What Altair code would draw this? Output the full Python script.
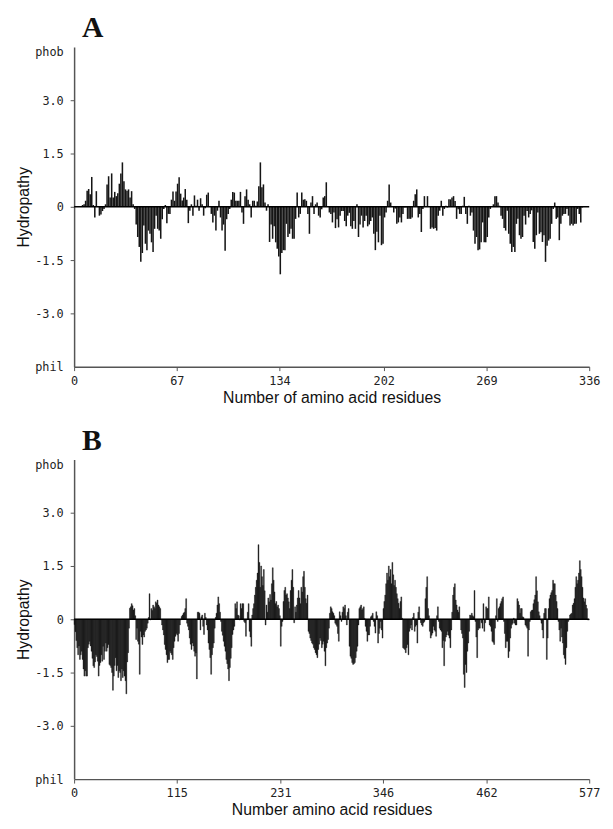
import altair as alt
import pandas as pd

# ---------------- data ----------------
A_VALUES = [
    0, 0, 0, 0, 0, 0.05, 0.07, 0.17, 0.45, 0.5,
    0.35, 0.84, 0.05, -0.3, 0.44, 0.02, -0.25, -0.22, -0.12, -0.06,
    0.07, 0.63, 0.86, 0.26, 0.94, 0.26, 0.42, 0.3, 0.38, 0.65,
    0.94, 1.25, 0.72, 0.49, 0.45, 0.49, 0.26, 0.44, 0.07, -0.06,
    -0.5, -0.85, -1.13, -1.55, -1.3, -0.53, -1.04, -1.22, -0.67, -0.76,
    -1.0, -1.27, -0.62, -0.25, -0.62, -0.67, -0.9, -0.35, -0.06, 0.05,
    -0.46, -0.2, -0.2, 0.2, 0.43, 0.17, 0.43, 0.65, 0.83, 0.37,
    0.18, 0.26, 0.5, 0.2, -0.46, -0.11, 0.07, -0.25, 0.32, 0.03,
    0.2, -0.11, 0.24, 0.07, -0.25, -0.04, 0.34, 0.4, 0.0, -0.2,
    -0.44, -0.25, -0.67, -0.11, 0.17, -0.3, -0.67, -0.5, -1.24, -0.35,
    -0.2, -0.06, 0.2, 0.42, 0.4, 0.17, 0.17, 0.17, 0.42, -0.16,
    -0.48, 0.3, 0.49, 0.2, 0.07, -0.3, 0.17, 0.17, 0.03, 0.15,
    0.58, 1.25, 0.55, 0.63, 0.12, -0.11, 0.07, -0.99, -0.5, -0.9,
    -0.55, -1.0, -1.18, -1.4, -1.9, -1.3, -1.22, -1.22, -0.48, -0.85,
    -0.76, -0.62, -0.9, -0.9, -0.34, 0.4, -0.3, -0.2, 0.4, 0.2,
    0.21, 0.17, -0.2, -0.76, 0.12, 0.3, -0.2, 0.07, 0.12, -0.25,
    -0.3, -0.07, 0.26, 0.3, 0.69, 0.0, -0.16, -0.2, -0.44, -0.16,
    -0.6, -0.35, -0.58, -0.25, -0.12, -0.12, -0.4, -0.55, -0.25, -0.17,
    -0.55, -0.62, -0.4, -0.62, 0.07, -0.85, -0.5, -0.25, -0.58, -0.4,
    -0.25, -0.55, -0.5, -0.4, -0.3, -0.76, -1.22, -0.7, -1.0, -0.25,
    -1.08, -1.04, -0.3, -0.16, 0.17, 0.63, 0.12, 0.0, -0.16, -0.05,
    -0.48, -0.44, -0.3, -0.44, -0.2, -0.02, -0.02, -0.34, -0.34, -0.34,
    -0.3, 0.17, 0.35, 0.49, -0.3, -0.2, -0.71, -0.06, 0.3, 0.0,
    0.3, 0.0, -0.62, -0.58, -0.62, -0.6, -0.67, -0.25, -0.11, 0.17,
    -0.25, -0.06, 0.03, -0.02, 0.21, 0.21, 0.26, 0.3, 0.16, -0.34,
    -0.07, -0.2, -0.2, 0.03, 0.28, -0.2, -0.48, 0.03, -0.25, -0.16,
    -0.67, -1.04, -0.85, -1.22, -1.2, -1.0, -0.44, -1.0, -1.0, -0.85,
    -0.3, -0.06, 0.0, 0.07, 0.3, 0.3, 0.12, 0.03, -0.25, -0.34,
    -0.6, -0.67, -0.11, -0.76, -1.04, -1.27, -1.13, -1.27, -0.48, -0.34,
    -0.8, -0.9, -0.85, -0.25, -0.5, -0.12, -0.3, -0.2, -0.1, -0.99,
    -1.18, -0.8, -0.16, -0.76, -0.72, -0.99, -0.8, -1.55, -1.1, -0.95,
    -0.9, -0.48, -0.06, 0.12, -0.34, -0.3, -0.94, -0.48, -0.25, -0.2,
    -0.2, -0.06, -0.25, -0.53, -0.48, -0.53, -0.48, -0.48, -0.06, -0.2,
    -0.44, -0.02, 0, 0, 0, 0,
]

B_VALUES = [
    -0.15, -0.35, -0.6, -0.8, -1.0, -0.75, -1.13, -1.0, -0.9, -1.13,
    -1.4, -1.6, -1.45, -1.6, -1.6, -0.8, -0.7, -0.62, -0.75, -0.9,
    -1.1, -1.31, -1.36, -1.2, -1.0, -1.05, -1.18, -1.6, -1.3, -1.22,
    -1.0, -1.18, -0.76, -1.13, -0.9, -0.67, -0.9, -0.8, -0.71, -1.27,
    -1.3, -1.36, -1.5, -2.0, -1.6, -1.3, -1.08, -1.45, -1.3, -1.64,
    -1.45, -1.5, -1.73, -1.4, -1.64, -1.45, -1.6, -1.73, -2.1, -1.2,
    -0.94, -0.25, 0.31, 0.35, 0.44, 0.38, 0.26, 0.3, 0.1, -0.57,
    -0.25, -0.62, -0.7, -1.55, -0.34, -0.5, -0.71, -0.44, -0.5, -0.34,
    -0.3, -0.25, -0.11, 0.05, 0.72, -0.02, 0.3, 0.25, 0.4, 0.35,
    0.3, 0.49, 0.45, 0.54, 0.4, 0.35, 0.3, -0.02, -0.16, -0.3,
    -0.44, -0.71, -0.85, -1.0, -1.22, -1.13, -1.13, -0.9, -0.95, -1.0,
    -1.13, -0.8, -0.62, -0.48, -0.4, -0.44, -0.62, -0.4, -0.16, -0.02,
    0.08, 0.12, 0.17, 0.2, 0.3, 0.58, -0.11, -0.2, -0.3, -0.53,
    -0.7, -0.85, -0.67, -0.75, -0.9, -1.04, -0.95, -1.68, 0.2, 0.2,
    0.17, -0.3, 0.07, 0.12, -0.2, -0.43, 0.17, 0.05, -0.16, -0.3,
    -0.67, -0.85, -1.08, -1.55, -1.0, -0.8, -0.67, -0.25, 0.05, 0.17,
    0.4, 0.63, 0.44, 0.2, -0.06, -0.34, -0.45, -0.62, -0.76, -0.9,
    -1.13, -1.25, -1.4, -1.73, -1.36, -1.1, -0.8, -0.43, -0.3, -0.2,
    0.44, 0.3, 0.49, 0.12, 0.1, -0.02, 0.44, 0.3, 0.44, 0.44,
    -0.06, -0.1, -0.48, -0.02, 0.2, 0.44, -0.34, -0.5, -0.76, 0.12,
    0.3, 0.44, 0.68, 0.9, 1.1, 1.3, 2.1, 1.6, 0.9, 1.5,
    1.2, 0.95, 1.4, 0.8, -0.16, 0.4, 0.2, 0.6, 0.49, 0.7,
    0.54, 1.0, 1.45, 1.1, 0.77, 0.44, 0.5, 0.35, 0.4, 0.3,
    0.1, -0.76, -0.2, -0.06, 0.5, 0.81, 0.9, 0.68, 0.72, 0.6,
    0.49, 0.3, 0.81, 1.1, 1.4, 0.9, -0.1, 0.35, 0.2, 0.4,
    0.6, 0.81, 0.6, 0.44, 0.9, 0.77, 1.2, 1.35, 0.9, 0.58,
    0.45, 0.68, -0.34, -0.4, -0.53, -0.6, -0.67, -0.7, -0.8, -0.85,
    -0.94, -1.0, -1.08, -0.85, -0.7, -0.53, -0.6, -0.8, -0.7, -0.62,
    -0.9, -1.31, -0.8, -0.67, -0.57, -0.25, 0.17, 0.35, 0.3, 0.21,
    0.17, 0.1, -0.11, -0.15, -0.2, -0.4, -0.62, 0.21, 0.1, -0.06,
    0.2, 0.35, 0.3, 0.4, 0.1, -0.16, 0.2, 0.3, -0.76, -1.04,
    -1.1, -1.22, -1.27, -1.25, -1.22, -1.08, -0.9, -0.76, -0.16, 0.3,
    0.35, 0.4, 0.26, 0.3, 0.35, 0.02, -0.2, -0.34, -0.62, -0.44,
    -0.44, -0.2, 0.07, 0.1, 0.17, -0.06, -0.2, -0.39, 0.21, 0.1,
    -0.67, -0.4, -0.25, -0.06, -0.3, -0.53, 0.3, 0.5, 0.68, 1.0,
    1.3, 1.1, 1.5, 1.2, 1.4, 1.0, 1.6, 1.25, 0.95, 1.1,
    0.9, 0.72, 0.58, 0.45, 0.3, 0.5, 0.63, 0.03, -0.8, -0.82,
    -0.85, -0.94, -0.8, -0.71, -1.0, -0.34, -0.25, -0.16, -0.3, 0.05,
    0.17, -0.34, -0.2, -0.16, -0.67, 0.2, 0.35, 0.03, -0.1, -0.16,
    -0.2, -0.1, -0.06, 0.58, 0.9, 1.2, 0.3, 0.1, -0.34, -0.53,
    -0.45, -0.39, -0.2, -0.3, -0.34, -0.48, 0.1, 0.35, -0.06, -0.25,
    -0.3, -0.34, -0.8, -0.6, -1.31, -0.62, -0.5, -0.44, -0.34, -0.45,
    -0.53, -0.8, -0.3, 0.2, 0.68, 0.9, 1.0, 0.54, 0.4, 0.26,
    0.2, 0.35, -0.02, -0.3, -0.4, -0.53, -1.55, -1.92, -1.27, -1.5,
    -0.9, -0.67, -0.34, 0.12, 0.1, 0.17, 0.1, 0.07, 0.81, -0.06,
    -0.5, -1.08, -0.3, -0.25, -0.25, -0.02, -0.1, -0.25, 0.44, -0.34,
    -0.1, 0.35, 0.3, 0.3, 0.63, -0.16, -0.2, -0.34, -0.62, -0.65,
    -0.71, -0.25, 0.1, 0.58, -0.06, 0.3, 0.35, 0.44, 0.5, 0.58,
    0.63, -0.06, -0.4, -0.8, -0.62, -0.62, -1.08, -0.9, -0.53, -0.25,
    -0.15, -0.11, 0.03, -0.11, -0.16, -0.16, 0.58, 0.5, 0.4, 0.17,
    0.3, 0.3, 0.07, 0.05, -0.02, -0.16, -0.2, -0.25, -1.04, -0.3,
    -0.06, 0.21, 0.25, 0.26, 0.44, 0.55, 0.68, 1.2, 0.8, 0.49,
    0.21, 0.1, -0.02, -0.11, -0.3, -0.53, 0.17, 0.3, 0.3, -1.13,
    -0.53, 0.3, 0.58, 0.68, 0.75, 0.81, 1.1, 1.0, 1.0, 0.68,
    0.5, 0.3, -0.06, -0.3, -0.62, -0.25, -0.5, -0.67, -1.0, -1.1,
    -1.27, -0.8, -0.34, -0.06, -0.02, 0.12, 0.15, 0.17, 0.4, 0.45,
    0.58, 0.9, 1.2, 1.0, 1.1, 1.3, 1.65, 1.4, 1.2, 0.9,
    0.6, 0.49, 0.58, 0.4, 0.3, -0.02, -0.02,
]

A_TICKS = [0, 67, 134, 202, 269, 336]
B_TICKS = [0, 115, 231, 346, 462, 577]
Y_TICKS = [-4.5, -3.0, -1.5, 0, 1.5, 3.0, 4.5]
Y_LABELS = ["phil", "-3.0", "-1.5", "0", "1.5", "3.0", "phob"]

# ---------------- chart ----------------
label_expr = ""
for v, lab in zip(Y_TICKS, Y_LABELS):
    label_expr += f"datum.value == {v} ? '{lab}' : "
label_expr += "''"

AXIS_GRAY = "#555555"
MONO = "DejaVu Sans Mono"
SANS = "Liberation Sans"


def panel(values, ticks, xtitle, letter, bar_stroke):
    n = ticks[-1]
    df = pd.DataFrame({
        "pos": list(range(len(values))),
        "end": [i + 1 for i in range(len(values))],
        "h": values,
        "base": [0] * len(values),
    })
    zero_df = pd.DataFrame({"pos": [0], "end": [n], "h": [0]})

    xenc = alt.X(
        "pos:Q",
        scale=alt.Scale(domain=[0, n], nice=False, zero=False),
        axis=alt.Axis(
            values=ticks, format="d", title=xtitle, grid=False,
            labelFont=MONO, labelFontSize=12, labelColor="#222222",
            labelFlush=False, labelPadding=5, tickSize=4, tickColor=AXIS_GRAY,
            domainColor=AXIS_GRAY, domainWidth=1.5, tickWidth=1,
            titleFont=SANS, titleFontSize=16, titleFontWeight="normal",
            titleColor="#111111", titlePadding=3,
        ),
    )
    yenc = alt.Y(
        "h:Q",
        scale=alt.Scale(domain=[-4.5, 4.5], nice=False, zero=False),
        axis=alt.Axis(
            values=Y_TICKS, labelExpr=label_expr, title="Hydropathy", grid=False,
            labelFont=MONO, labelFontSize=12, labelColor="#222222",
            labelPadding=7, tickSize=4, tickColor=AXIS_GRAY, tickWidth=1,
            domainColor=AXIS_GRAY, domainWidth=1.5,
            labelBaseline={"condition": {"test": "datum.value == 4.5", "value": "top"},
                           "value": "middle"},
            tickOpacity={"condition": {"test": "abs(datum.value) == 4.5", "value": 0},
                         "value": 1},
            titleFont=SANS, titleFontSize=16, titleFontWeight="normal",
            titleColor="#111111", titlePadding=3,
        ),
    )

    bars = alt.Chart(df).mark_bar(
        color="#151515", stroke="#151515", strokeWidth=bar_stroke
    ).encode(x=xenc, x2="end:Q", y=yenc, y2="base:Q")
    zero = alt.Chart(zero_df).mark_rule(color="#000000", strokeWidth=1.5).encode(
        x=xenc, x2="end:Q", y=yenc
    )
    return alt.layer(bars, zero).properties(
        width=522, height=324,
        title=alt.TitleParams(
            letter, anchor="start", frame="group", font="Liberation Serif",
            fontSize=30, fontWeight="bold", color="#111111", dx=8, offset=3,
        ),
    )


pa = panel(A_VALUES, A_TICKS, "Number of amino acid residues", "A", 0)
pb = panel(B_VALUES, B_TICKS, "Number amino acid residues", "B", 0.4)

chart = alt.vconcat(pa, pb, spacing=94, bounds="flush").configure_view(
    stroke=None
).properties(padding={"left": 8, "top": 0, "right": 5, "bottom": 0})

chart.save("out.html", embed_options={"renderer": "svg", "actions": False})
